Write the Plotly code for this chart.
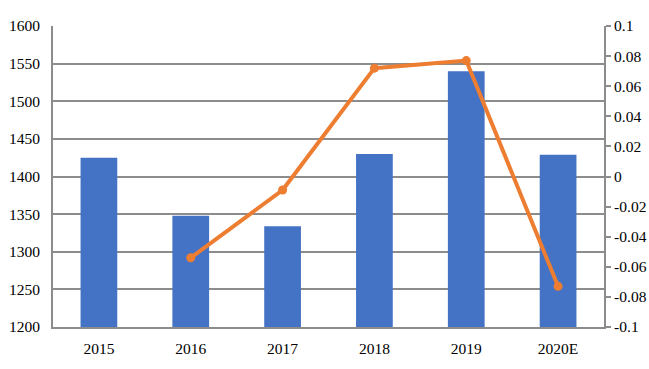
import plotly.graph_objects as go

years = ["2015", "2016", "2017", "2018", "2019", "2020E"]
volume = [1425, 1348, 1334, 1430, 1540, 1429]
growth_years = ["2016", "2017", "2018", "2019", "2020E"]
growth = [-0.054, -0.009, 0.072, 0.077, -0.073]

left_ticks = [1200, 1250, 1300, 1350, 1400, 1450, 1500, 1550, 1600]
right_ticks = [-0.1, -0.08, -0.06, -0.04, -0.02, 0, 0.02, 0.04, 0.06, 0.08, 0.1]
right_labels = ["-0.1", "-0.08", "-0.06", "-0.04", "-0.02", "0", "0.02", "0.04", "0.06", "0.08", "0.1"]

grid = "#8c8c8c"
font = dict(family="Liberation Serif, Times New Roman, serif", size=15.5, color="#000000")

fig = go.Figure()
fig.add_trace(go.Bar(x=years, y=volume, marker=dict(color="#4472C4", line=dict(width=0)),
                     width=0.4, yaxis="y", hoverinfo="skip"))
fig.add_trace(go.Scatter(x=growth_years, y=growth, mode="lines+markers", yaxis="y2",
                         line=dict(color="#ED7D31", width=4),
                         marker=dict(size=9, color="#ED7D31"), hoverinfo="skip"))

fig.update_layout(
    width=649, height=369,
    margin=dict(l=53, r=45, t=26, b=42, autoexpand=False),
    paper_bgcolor="white", plot_bgcolor="white",
    showlegend=False, font=font,
    xaxis=dict(showline=True, linecolor=grid, linewidth=2, showgrid=False,
               ticks="", tickfont=font, automargin=False, ticklabelstandoff=6),
    yaxis=dict(range=[1200, 1600], tickvals=left_ticks, showgrid=True, gridcolor=grid,
               gridwidth=2, showline=True, linecolor=grid, linewidth=2, ticks="",
               zeroline=False, tickfont=font, ticklabelstandoff=8, automargin=False),
    yaxis2=dict(range=[-0.1, 0.1], tickvals=right_ticks, ticktext=right_labels,
                overlaying="y", side="right", showgrid=False, zeroline=False,
                showline=True, linecolor=grid, linewidth=2, ticks="outside",
                ticklen=5, tickwidth=2, tickcolor=grid, tickfont=font, automargin=False),
)

fig.write_html("out.html", config={"displayModeBar": False},
               post_script="document.body.style.margin='0';document.body.style.overflow='hidden';")
